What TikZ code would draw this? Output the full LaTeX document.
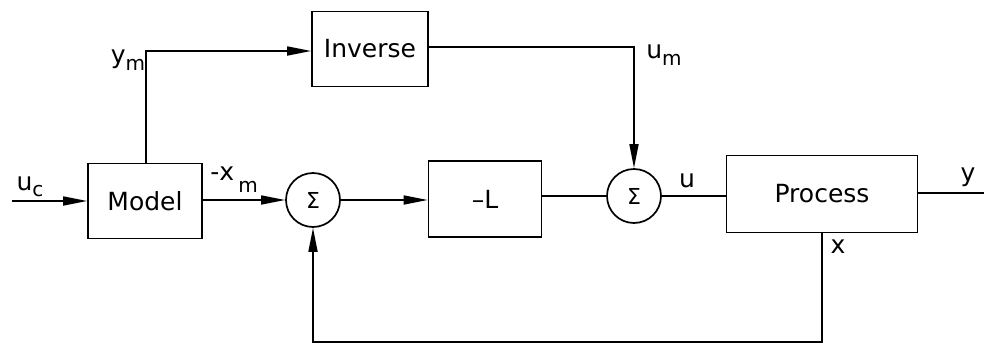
\documentclass[tikz,border=0pt]{standalone}
\usepackage{fontspec}
\setmainfont{DejaVu Sans}
\usetikzlibrary{arrows.meta}
\begin{document}
\begin{tikzpicture}[x=1pt,y=-1pt,
  line width=1.7pt,
  blk/.style={draw,rectangle,inner sep=0pt,font=\fontsize{25}{28}\selectfont},
  sumnode/.style={draw,circle,minimum size=54pt,inner sep=0pt,font=\fontsize{22}{24}\selectfont},
  lbl/.style={inner sep=0pt,font=\fontsize{25}{28}\selectfont},
  sig/.style={-{Triangle[length=24pt,width=9pt]}}]
\useasboundingbox (0,0) rectangle (984,348);
% blocks
\node[blk,minimum width=114pt,minimum height=75pt] (model) at (145,201) {Model};
\node[blk,minimum width=116pt,minimum height=75pt] (inv) at (370,49) {Inverse};
\node[blk,minimum width=113pt,minimum height=76pt] (gain) at (485,199) {–L};
\node[blk,minimum width=191pt,minimum height=77pt] (proc) at (822,194) {Process};
\node[sumnode] (s1) at (313,200) {Σ};
\node[sumnode] (s2) at (634,196) {Σ};
% free ends and corners
\coordinate (in) at (12,201);
\coordinate (out) at (984,193);
\coordinate (ymc) at (146,51);
\coordinate (umc) at (634,47);
\coordinate (fbr) at (822,342);
\coordinate (fbl) at (313,342);
% signal lines
\draw[sig] (in) -- (model.west |- in);
\draw[sig] (model.east |- s1) -- (s1.west);
\draw[sig] (s1.east) -- (gain.west |- s1);
\draw (gain.east |- s2) -- (s2.west);
\draw (s2.east) -- (proc.west |- s2);
\draw (proc.east |- out) -- (out);
\draw[sig] (ymc |- model.north) -- (ymc) -- (inv.west |- ymc);
\draw[sig] (inv.east |- umc) -- (umc) -- (s2.north);
\draw[sig] (proc.south) -- (fbr) -- (fbl) -- (s1.south);
% labels
\node[lbl] at (30,187) {u\raisebox{-6pt}{\fontsize{20}{22}\selectfont c}};
\node[lbl] at (128,60) {y\raisebox{-7pt}{\fontsize{20}{22}\selectfont m}};
\node[lbl] at (234,180) {-x\raisebox{-12pt}{\,\fontsize{20}{22}\selectfont m}};
\node[lbl] at (664,55) {u\raisebox{-7pt}{\fontsize{20}{22}\selectfont m}};
\node[lbl] at (687,181) {u};
\node[lbl] at (838,247) {x};
\node[lbl] at (968,177) {y};
\end{tikzpicture}
\end{document}
